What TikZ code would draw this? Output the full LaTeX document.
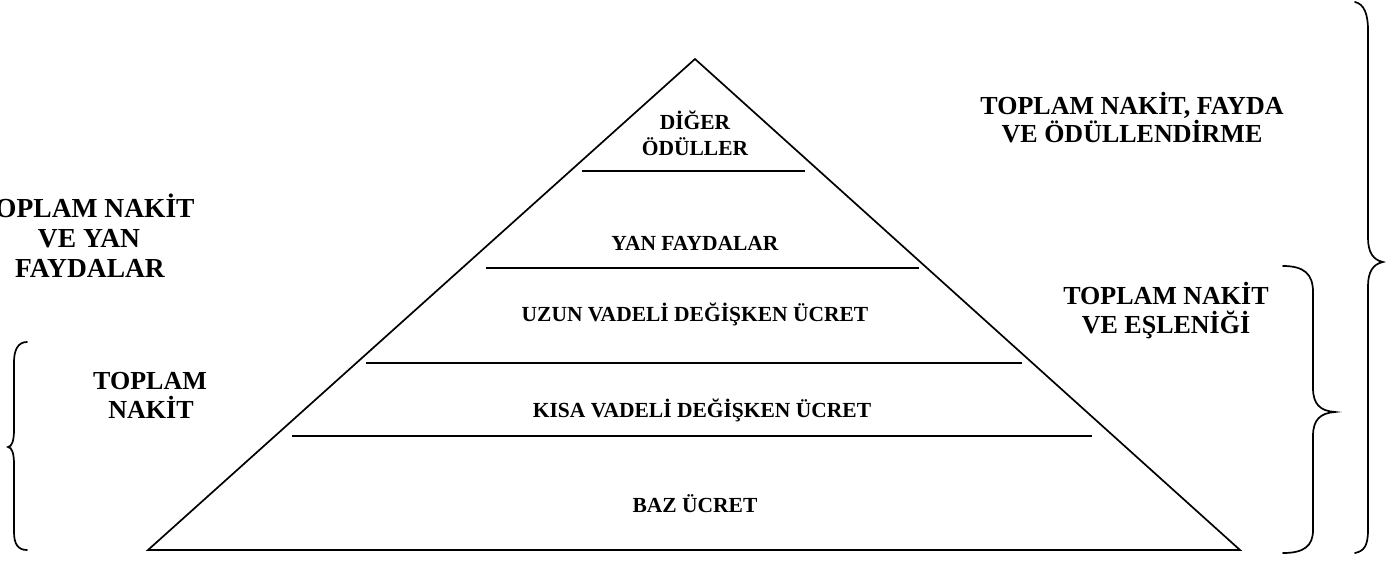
\documentclass[tikz,border=0pt]{standalone}
\usepackage{fontspec}
\setmainfont{Liberation Serif}
\begin{document}
\begin{tikzpicture}[x=1pt,y=-1pt,
  big/.style={font=\fontsize{26}{30}\selectfont\bfseries, inner sep=0pt, anchor=base},
  bigl/.style={font=\fontsize{27.5}{30}\selectfont\bfseries, inner sep=0pt, anchor=base},
  lab/.style={font=\fontsize{21.5}{24}\selectfont\bfseries, inner sep=0pt, anchor=base},
  edge/.style={line width=1.7pt, line join=miter},
  layer/.style={line width=1.5pt},
  brace/.style={line width=1.7pt, line cap=round}]
\useasboundingbox (0,0) rectangle (1395,562);
\clip (0,0) rectangle (1395,562);
% pyramid
\coordinate (apex) at (695,59);
\coordinate (bl) at (148,550);
\coordinate (br) at (1240,550);
\draw[edge] (bl) -- (apex) -- (br) -- cycle;
\coordinate (l1a) at (582,171);  \coordinate (l1b) at (805,171);
\coordinate (l2a) at (486,268);  \coordinate (l2b) at (919,268);
\coordinate (l3a) at (366,363);  \coordinate (l3b) at (1022,363);
\coordinate (l4a) at (292,436);  \coordinate (l4b) at (1092,436);
\draw[layer] (l1a) -- (l1b);
\draw[layer] (l2a) -- (l2b);
\draw[layer] (l3a) -- (l3b);
\draw[layer] (l4a) -- (l4b);
% pyramid labels
\node[lab] (d1) at (695,129) {DİĞER};
\node[lab] (d2) at (695,155) {ÖDÜLLER};
\node[lab] (yf) at (695,250) {YAN FAYDALAR};
\node[lab] (uv) at (695,321) {UZUN VADELİ DEĞİŞKEN ÜCRET};
\node[lab] (kv) at (702,417) {KISA VADELİ DEĞİŞKEN ÜCRET};
\node[lab] (bz) at (695,512) {BAZ ÜCRET};
% side labels
\node[big] (rt1) at (1132,114) {TOPLAM NAKİT, FAYDA};
\node[big] (rt2) at (1132,142) {VE ÖDÜLLENDİRME};
\node[bigl] (lt1) at (86,217) {TOPLAM NAKİT};
\node[bigl] (lt2) at (89,247) {VE YAN};
\node[bigl] (lt3) at (90,277) {FAYDALAR};
\node[big] (rm1) at (1166,304) {TOPLAM NAKİT};
\node[big] (rm2) at (1166,333) {VE EŞLENİĞİ};
\node[big] (lb1) at (150,389) {TOPLAM};
\node[big] (lb2) at (151,418) {NAKİT};
% braces
\draw[brace] (27,342) .. controls (18,342) and (14,350) .. (14,362) -- (14,430)
  .. controls (14,440) and (12,447) .. (8,447)
  .. controls (12,447) and (14,454) .. (14,464) -- (14,532)
  .. controls (14,544) and (18,550) .. (27,550);
\draw[brace] (1283,266) .. controls (1304,266) and (1313,274) .. (1313,292) -- (1313,388)
  .. controls (1313,404) and (1320,411) .. (1335,412)
  .. controls (1320,413) and (1313,420) .. (1313,436) -- (1313,530)
  .. controls (1313,546) and (1304,553) .. (1283,553);
\draw[brace] (1355,2) .. controls (1364,4) and (1368,14) .. (1368,30) -- (1368,238)
  .. controls (1368,252) and (1373,260) .. (1383,262)
  .. controls (1373,264) and (1368,272) .. (1368,286) -- (1368,530)
  .. controls (1368,546) and (1364,551) .. (1355,553);
\end{tikzpicture}
\end{document}
